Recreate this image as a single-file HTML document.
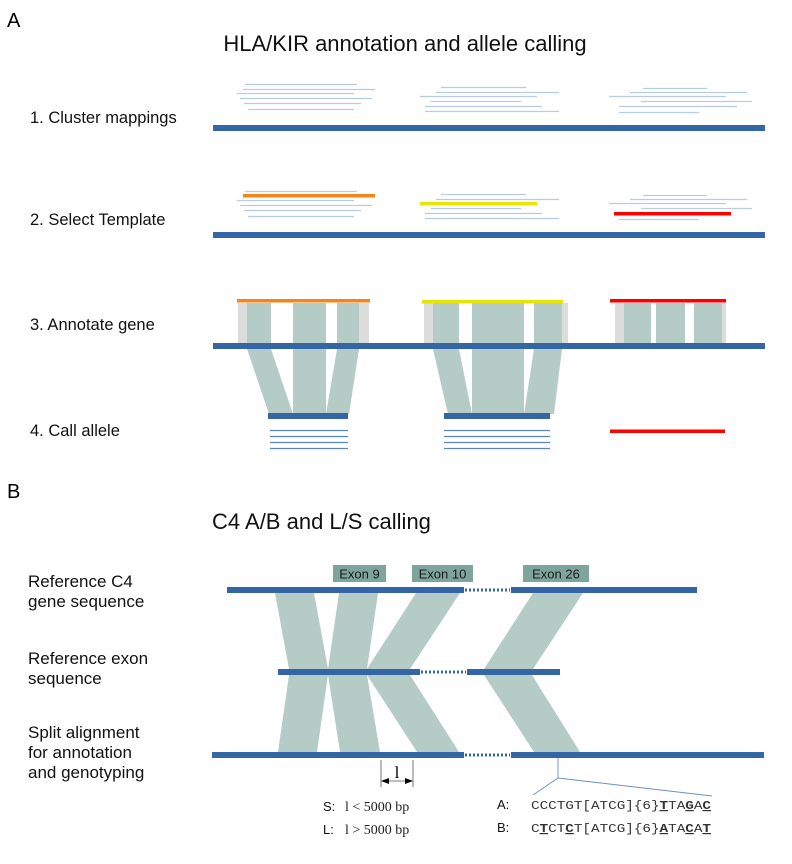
<!DOCTYPE html>
<html><head><meta charset="utf-8"><style>
html,body{margin:0;padding:0;background:#fff;}
svg{display:block;font-family:"Liberation Sans",sans-serif;}
</style></head><body>
<svg width="792" height="864" viewBox="0 0 792 864" xmlns="http://www.w3.org/2000/svg">
<text x="7" y="27" font-size="20" fill="#000">A</text>
<text x="405" y="51" font-size="22" text-anchor="middle" fill="#111">HLA/KIR annotation and allele calling</text>
<g font-size="16.5" fill="#111">
<text x="30" y="123">1. Cluster mappings</text>
<text x="30" y="225">2. Select Template</text>
<text x="30" y="330">3. Annotate gene</text>
<text x="30" y="436">4. Call allele</text>
</g>
<!-- reads step 1 -->
<g stroke="#b8cce0" stroke-width="1.2">
<line x1="245" y1="84.5" x2="357" y2="84.5"/><line x1="243" y1="89.5" x2="375" y2="89.5"/><line x1="237" y1="93.5" x2="354" y2="93.5"/><line x1="240" y1="98.5" x2="372" y2="98.5"/><line x1="244" y1="103.5" x2="361" y2="103.5"/><line x1="248" y1="109.5" x2="354" y2="109.5"/>
<line x1="441" y1="87.5" x2="526" y2="87.5"/><line x1="436" y1="92.5" x2="559" y2="92.5"/><line x1="420" y1="96.5" x2="537" y2="96.5"/><line x1="431" y1="101.5" x2="521" y2="101.5"/><line x1="425" y1="106.5" x2="542" y2="106.5"/><line x1="425" y1="111.5" x2="559" y2="111.5"/>
<line x1="643" y1="88.5" x2="707" y2="88.5"/><line x1="630" y1="92.5" x2="747" y2="92.5"/><line x1="609" y1="96.5" x2="726" y2="96.5"/><line x1="641" y1="101.5" x2="752" y2="101.5"/><line x1="619" y1="106.5" x2="737" y2="106.5"/><line x1="619" y1="112.5" x2="699" y2="112.5"/>
<!-- step 2 -->
<line x1="245" y1="191.5" x2="357" y2="191.5"/><line x1="237" y1="200.5" x2="354" y2="200.5"/><line x1="240" y1="205.5" x2="372" y2="205.5"/><line x1="244" y1="210.5" x2="361" y2="210.5"/><line x1="248" y1="216.5" x2="354" y2="216.5"/>
<line x1="441" y1="194.5" x2="526" y2="194.5"/><line x1="436" y1="199.5" x2="559" y2="199.5"/><line x1="431" y1="208.5" x2="521" y2="208.5"/><line x1="425" y1="213.5" x2="542" y2="213.5"/><line x1="425" y1="218.5" x2="559" y2="218.5"/>
<line x1="643" y1="195.5" x2="707" y2="195.5"/><line x1="630" y1="199.5" x2="747" y2="199.5"/><line x1="609" y1="203.5" x2="726" y2="203.5"/><line x1="641" y1="208.5" x2="752" y2="208.5"/><line x1="619" y1="219.5" x2="699" y2="219.5"/>
</g>
<rect x="243" y="194" width="132" height="3.5" fill="#f0861c"/>
<rect x="420" y="202" width="117" height="3.5" fill="#e6e600"/>
<rect x="614" y="212" width="117" height="3.5" fill="#ff0000"/>
<!-- backbones A -->
<rect x="213" y="125" width="552" height="6" fill="#3465a4"/>
<rect x="213" y="232" width="552" height="6" fill="#3465a4"/>
<!-- step 3 blocks -->
<g fill="#dcdcdc">
<rect x="238" y="303" width="10" height="40"/><rect x="359" y="303" width="10" height="40"/>
<rect x="424" y="303" width="10" height="40"/><rect x="562" y="303" width="6" height="40"/>
<rect x="615" y="303" width="9" height="40"/><rect x="722" y="303" width="4" height="40"/>
</g>
<g fill="#b4cbc6">
<rect x="247" y="303" width="24" height="40"/><rect x="293" y="303" width="33" height="40"/><rect x="337" y="303" width="22" height="40"/>
<rect x="433" y="303" width="26" height="40"/><rect x="472" y="303" width="52" height="40"/><rect x="534" y="303" width="28" height="40"/>
<rect x="624" y="303" width="27" height="40"/><rect x="656" y="303" width="29" height="40"/><rect x="694" y="303" width="28" height="40"/>
<!-- trapezoids -->
<polygon points="247,349 271,349 293,414 269,414"/>
<polygon points="293,349 326,349 326,414 293,414"/>
<polygon points="337,349 359,349 349,414 326,414"/>
<polygon points="433,349 459,349 472,414 448,414"/>
<polygon points="472,349 524,349 524,414 472,414"/>
<polygon points="534,349 562,349 554,414 524,414"/>
</g>
<rect x="237" y="299" width="133" height="3.5" fill="#f0861c"/>
<rect x="422" y="300" width="141" height="3.5" fill="#e6e600"/>
<rect x="610" y="299" width="116" height="3.5" fill="#ff0000"/>
<rect x="213" y="343" width="552" height="6" fill="#3465a4"/>
<!-- step 4 -->
<rect x="268" y="413" width="80" height="6" fill="#3465a4"/>
<rect x="444" y="413" width="106" height="6" fill="#3465a4"/>
<g stroke="#5b84bd" stroke-width="1.2">
<line x1="270" y1="430.5" x2="348" y2="430.5"/><line x1="270" y1="436.5" x2="348" y2="436.5"/><line x1="270" y1="442.5" x2="348" y2="442.5"/><line x1="270" y1="448.5" x2="348" y2="448.5"/>
<line x1="444" y1="430.5" x2="550" y2="430.5"/><line x1="444" y1="436.5" x2="550" y2="436.5"/><line x1="444" y1="442.5" x2="550" y2="442.5"/><line x1="444" y1="448.5" x2="550" y2="448.5"/>
</g>
<rect x="610" y="429.5" width="115" height="3.5" fill="#ff0000"/>

<!-- B -->
<text x="7" y="498" font-size="20" fill="#000">B</text>
<text x="212" y="529" font-size="22" fill="#111">C4 A/B and L/S calling</text>
<g font-size="17" fill="#111">
<text x="28" y="587">Reference C4</text><text x="28" y="607">gene sequence</text>
<text x="28" y="664">Reference exon</text><text x="28" y="684">sequence</text>
<text x="28" y="738">Split alignment</text><text x="28" y="758">for annotation</text><text x="28" y="778">and genotyping</text>
</g>
<g fill="#b4cbc6">
<polygon points="275,593 314,593 328,669 289,669"/>
<polygon points="339,593 378,593 367,669 328,669"/>
<polygon points="416,593 460,593 410,669 367,669"/>
<polygon points="533,593 583,593 533,669 484,669"/>
<polygon points="289,675 328,675 317,752 278,752"/>
<polygon points="328,675 367,675 380,752 340,752"/>
<polygon points="367,675 410,675 459,752 417,752"/>
<polygon points="484,675 532,675 580,752 534,752"/>
</g>
<g fill="#7da59d">
<rect x="333" y="565" width="53" height="17"/><rect x="412" y="565" width="61" height="17"/><rect x="523" y="565" width="66" height="17"/>
</g>
<g font-size="13" fill="#1a1a1a" text-anchor="middle">
<text x="359.5" y="578.5">Exon 9</text><text x="442.5" y="578.5">Exon 10</text><text x="556" y="578.5">Exon 26</text>
</g>
<g fill="#3465a4">
<rect x="227" y="587" width="237" height="6"/><rect x="511" y="587" width="186" height="6"/>
<rect x="278" y="669" width="142" height="6"/><rect x="467" y="669" width="93" height="6"/>
<rect x="212" y="752" width="252" height="6"/><rect x="511" y="752" width="253" height="6"/>
</g>
<g stroke="#3465a4" stroke-width="3" stroke-dasharray="2,2">
<line x1="465" y1="590" x2="510" y2="590"/><line x1="421" y1="672" x2="466" y2="672"/><line x1="465" y1="755" x2="510" y2="755"/>
</g>
<!-- dimension -->
<g stroke="#555" stroke-width="0.8">
<line x1="381" y1="760" x2="381" y2="787"/><line x1="413" y1="760" x2="413" y2="787"/>
<line x1="386" y1="781" x2="408" y2="781"/>
</g>
<polygon points="381,781 389,778 389,784" fill="#000"/>
<polygon points="413,781 405,778 405,784" fill="#000"/>
<text x="397" y="778" font-size="17" font-family="Liberation Serif,serif" text-anchor="middle">l</text>
<!-- callout -->
<g stroke="#6d8fc4" stroke-width="0.9" fill="none">
<line x1="558" y1="758" x2="558" y2="778"/><line x1="558" y1="778" x2="533" y2="795"/><line x1="558" y1="778" x2="712" y2="796"/>
</g>
<g font-size="13" fill="#111">
<text x="323" y="811">S:</text><text x="323" y="834">L:</text>
<text x="497" y="809">A:</text><text x="497" y="832">B:</text>
</g>
<g font-size="14" font-family="Liberation Serif,serif" fill="#222">
<text x="345" y="811">l &lt; 5000 bp</text><text x="345" y="834">l &gt; 5000 bp</text>
</g>
<g font-size="12" font-family="Liberation Mono,monospace" fill="#333">
<text x="531" y="809" textLength="180" lengthAdjust="spacingAndGlyphs">CCCTGT[ATCG]{6}<tspan font-weight="bold" text-decoration="underline">T</tspan>TA<tspan font-weight="bold" text-decoration="underline">G</tspan>A<tspan font-weight="bold" text-decoration="underline">C</tspan></text>
<text x="531" y="832" textLength="180" lengthAdjust="spacingAndGlyphs">C<tspan font-weight="bold" text-decoration="underline">T</tspan>CT<tspan font-weight="bold" text-decoration="underline">C</tspan>T[ATCG]{6}<tspan font-weight="bold" text-decoration="underline">A</tspan>TA<tspan font-weight="bold" text-decoration="underline">C</tspan>A<tspan font-weight="bold" text-decoration="underline">T</tspan></text>
</g>
</svg>
</body></html>
